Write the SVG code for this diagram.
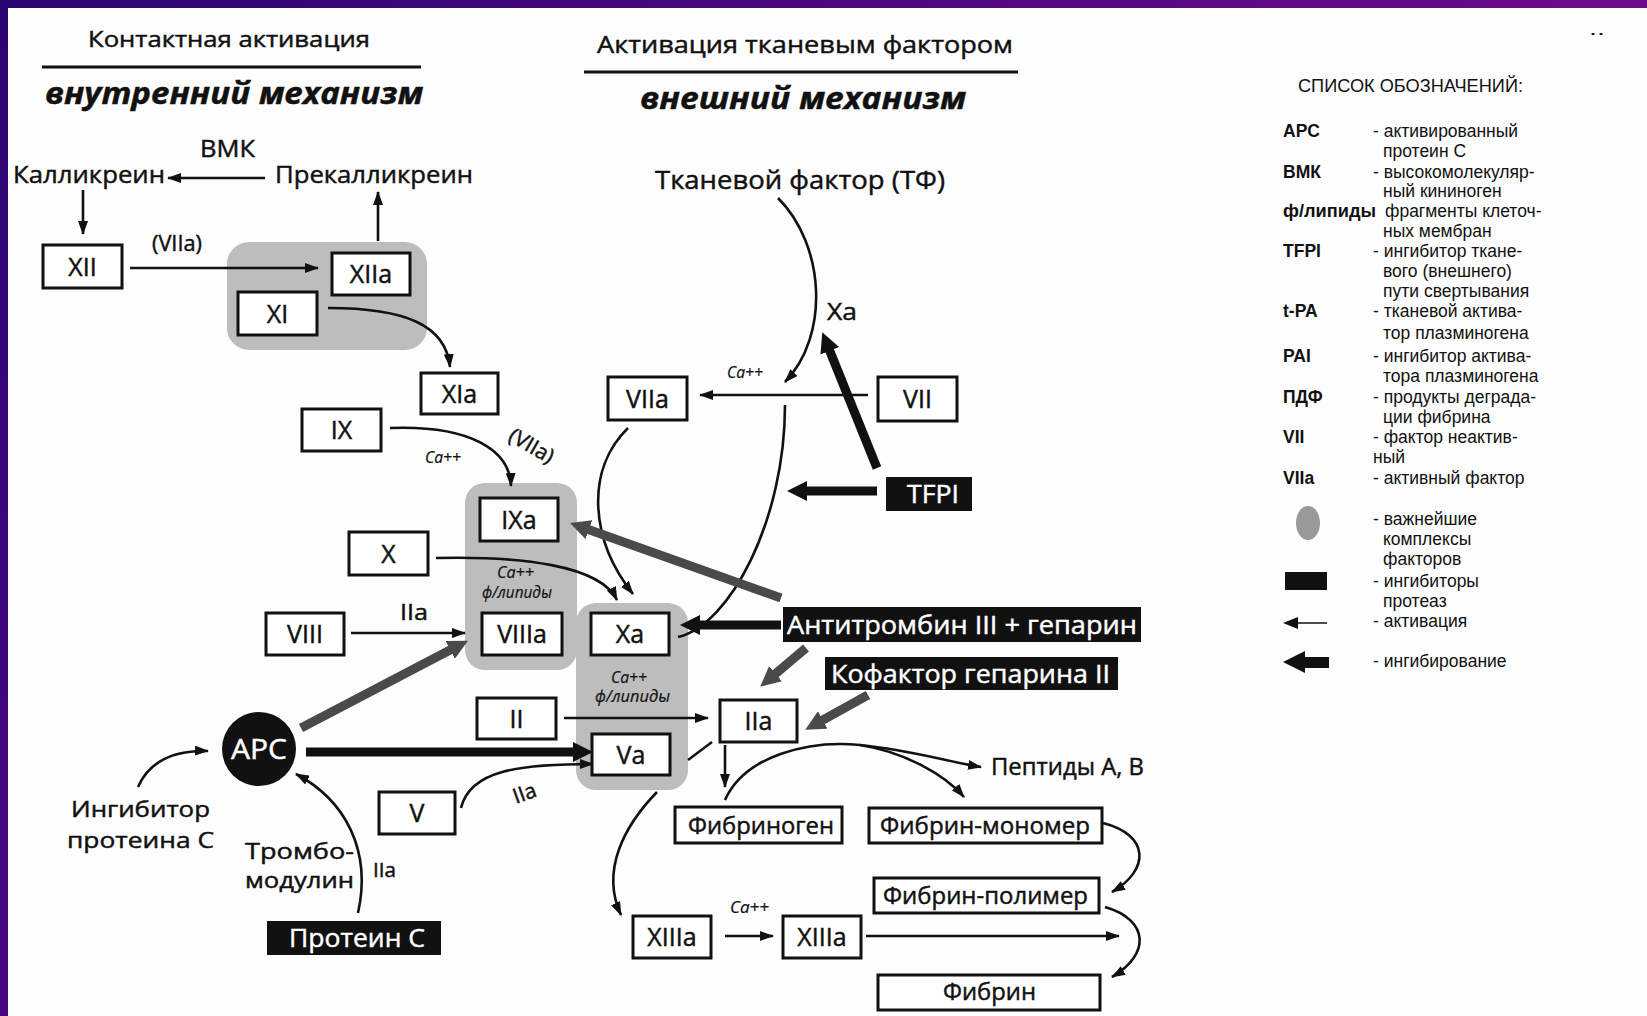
<svg xmlns="http://www.w3.org/2000/svg" width="1647" height="1016" viewBox="0 0 1647 1016">
<defs>
<linearGradient id="gTop" x1="0" y1="0" x2="1" y2="0"><stop offset="0" stop-color="#2a0672"/><stop offset="1" stop-color="#6e0a8c"/></linearGradient>
<linearGradient id="gLeft" x1="0" y1="0" x2="0" y2="1"><stop offset="0" stop-color="#2a0672"/><stop offset="1" stop-color="#4a0884"/></linearGradient>
<marker id="a" viewBox="0 0 14 10" refX="13" refY="5" markerWidth="14" markerHeight="10" markerUnits="userSpaceOnUse" orient="auto"><path d="M0,0 L14,5 L0,10 z" fill="#111"/></marker>
<marker id="tk" viewBox="0 0 20 20" refX="2" refY="10" markerWidth="20" markerHeight="20" markerUnits="userSpaceOnUse" orient="auto"><path d="M0,0 L20,10 L0,20 z" fill="#111"/></marker>
<marker id="tg" viewBox="0 0 20 20" refX="2" refY="10" markerWidth="20" markerHeight="20" markerUnits="userSpaceOnUse" orient="auto"><path d="M0,0 L20,10 L0,20 z" fill="#4a4a4a"/></marker>
</defs>
<style>
.f{font-family:"Open Sans","Noto Sans",sans-serif;fill:#111;stroke:#111;stroke-width:0.45}
.l{font-family:"Liberation Sans",Arial,sans-serif;font-size:17.5px;fill:#111}
.lb{font-weight:bold}
.box{fill:#fff;stroke:#111;stroke-width:3}
.grp{fill:#bdbdbd}
.inh{fill:#111}
.bl{font-size:25px;text-anchor:middle}
.wt{fill:#fff;stroke:#fff}
.it{font-style:italic;font-size:16px;stroke-width:0.2}
.ln{fill:none;stroke:#111;stroke-width:2.6}
.thk{fill:none;stroke:#111;stroke-width:9}
.thg{fill:none;stroke:#4a4a4a;stroke-width:9}
</style>
<rect x="0" y="0" width="1647" height="1016" fill="#fdfdfd"/>
<rect x="0" y="0" width="1647" height="8" fill="url(#gTop)"/>
<rect x="0" y="0" width="8" height="1016" fill="url(#gLeft)"/>

<g id="headers">
<text class="f" x="88" y="47" font-size="22" textLength="282" lengthAdjust="spacingAndGlyphs">Контактная активация</text>
<line x1="42" y1="67" x2="421" y2="67" stroke="#111" stroke-width="3"/>
<text class="f" x="45" y="104" font-size="30" font-weight="bold" font-style="italic" textLength="378" lengthAdjust="spacingAndGlyphs">внутренний механизм</text>
<text class="f" x="597" y="53" font-size="24" textLength="416" lengthAdjust="spacingAndGlyphs">Активация тканевым фактором</text>
<line x1="584" y1="72" x2="1018" y2="72" stroke="#111" stroke-width="3"/>
<text class="f" x="640" y="109" font-size="30" font-weight="bold" font-style="italic" textLength="326" lengthAdjust="spacingAndGlyphs">внешний механизм</text>
<text class="l" x="1589" y="35" textLength="16" lengthAdjust="spacingAndGlyphs">..</text>
</g>

<g id="groups">
<rect id="grp-xii" class="grp" x="227" y="242" width="200" height="108" rx="22"/>
<rect id="grp-ixa" class="grp" x="465" y="483" width="112" height="187" rx="20"/>
<rect id="grp-xa" class="grp" x="576" y="603" width="112" height="187" rx="20"/>
</g>

<g id="connectors">
<line class="ln" x1="265" y1="178" x2="168" y2="178" marker-end="url(#a)"/>
<line class="ln" x1="83" y1="190" x2="83" y2="234" marker-end="url(#a)"/>
<line class="ln" x1="378" y1="241" x2="378" y2="192" marker-end="url(#a)"/>
<line class="ln" x1="130" y1="268" x2="318" y2="268" marker-end="url(#a)"/>
<path class="ln" d="M328,308 C405,308 446,325 450,367" marker-end="url(#a)"/>
<path class="ln" d="M390,428 C470,425 510,450 511,486" marker-end="url(#a)"/>
<path class="ln" d="M436,558 C520,556 600,565 617,600" marker-end="url(#a)"/>
<line class="ln" x1="351" y1="633" x2="465" y2="633" marker-end="url(#a)"/>
<line class="ln" x1="564" y1="718" x2="708" y2="718" marker-end="url(#a)"/>
<path class="ln" d="M461,808 C470,770 520,764 593,764" marker-end="url(#a)"/>
<path class="ln" d="M138,787 C150,760 175,750 208,751" marker-end="url(#a)"/>
<path class="ln" d="M358,913 C372,850 345,800 296,774" marker-end="url(#a)"/>
<path class="ln" d="M778,198 C825,245 830,335 785,382" marker-end="url(#a)"/>
<line class="ln" x1="868" y1="395" x2="700" y2="395" marker-end="url(#a)"/>
<path class="ln" d="M678,637 C730,625 785,520 785,405"/>
<path class="ln" d="M628,428 C585,470 590,540 633,594" marker-end="url(#a)"/>
<line class="ln" x1="688" y1="760" x2="712" y2="742"/>
<line class="ln" x1="725" y1="745" x2="725" y2="787" marker-end="url(#a)"/>
<path class="ln" d="M725,800 C745,755 810,740 860,745 C910,750 950,762 981,767" marker-end="url(#a)"/>
<path class="ln" d="M860,745 C905,752 945,775 964,797" marker-end="url(#a)"/>
<path class="ln" d="M657,792 C625,825 600,870 621,915" marker-end="url(#a)"/>
<line class="ln" x1="725" y1="936" x2="773" y2="936" marker-end="url(#a)"/>
<line class="ln" x1="866" y1="936" x2="1119" y2="936" marker-end="url(#a)"/>
<path class="ln" d="M1103,823 C1150,835 1150,870 1112,892" marker-end="url(#a)"/>
<path class="ln" d="M1105,907 C1150,920 1150,955 1112,977" marker-end="url(#a)"/>
<line class="thk" x1="877" y1="468" x2="829" y2="349" marker-end="url(#tk)"/>
<line class="thk" x1="877" y1="491" x2="805" y2="491" marker-end="url(#tk)"/>
<line class="thg" x1="781" y1="598" x2="587" y2="529" marker-end="url(#tg)"/>
<line class="thk" x1="781" y1="625" x2="698" y2="625" marker-end="url(#tk)"/>
<line class="thg" x1="806" y1="648" x2="774" y2="675" marker-end="url(#tg)"/>
<line class="thg" x1="868" y1="695" x2="821" y2="721" marker-end="url(#tg)"/>
<line class="thg" x1="301" y1="728" x2="452" y2="649" marker-end="url(#tg)"/>
<line class="thk" x1="306" y1="752" x2="575" y2="752" marker-end="url(#tk)"/>
</g>

<g id="labels">
<text class="f" x="200" y="157" font-size="24" textLength="55" lengthAdjust="spacingAndGlyphs">ВМК</text>
<text class="f" x="152" y="251" font-size="22" textLength="50" lengthAdjust="spacingAndGlyphs">(VIIa)</text>
<text class="f" x="827" y="320" font-size="24" textLength="30" lengthAdjust="spacingAndGlyphs">Xa</text>
<text class="f it" x="727" y="378" textLength="36" lengthAdjust="spacingAndGlyphs">Ca++</text>
<text class="f it" x="425" y="463" textLength="36" lengthAdjust="spacingAndGlyphs">Ca++</text>
<text class="f" x="0" y="0" font-size="21" text-anchor="middle" transform="translate(528,452) rotate(30)">(VIIa)</text>
<text class="f it" x="497" y="578" textLength="37" lengthAdjust="spacingAndGlyphs">Ca++</text>
<text class="f it" x="482" y="598" textLength="70" lengthAdjust="spacingAndGlyphs">ф/липиды</text>
<text class="f it" x="611" y="683" textLength="36" lengthAdjust="spacingAndGlyphs">Ca++</text>
<text class="f it" x="595" y="702" textLength="75" lengthAdjust="spacingAndGlyphs">ф/липиды</text>
<text class="f" x="400" y="620" font-size="22" textLength="28" lengthAdjust="spacingAndGlyphs">IIa</text>
<text class="f" x="0" y="0" font-size="21" text-anchor="middle" transform="translate(527,800) rotate(-20)">IIa</text>
<text class="f" x="373" y="877" font-size="20" textLength="23" lengthAdjust="spacingAndGlyphs">IIa</text>
<text class="f it" x="730" y="913" textLength="39" lengthAdjust="spacingAndGlyphs">Ca++</text>
</g>

<g id="n-kallikrein"><text class="f" x="13" y="183" font-size="24" textLength="152" lengthAdjust="spacingAndGlyphs">Калликреин</text></g>
<g id="n-prekallikrein"><text class="f" x="275" y="183" font-size="24" textLength="198" lengthAdjust="spacingAndGlyphs">Прекалликреин</text></g>
<g id="n-tf"><text class="f" x="655" y="189" font-size="26" textLength="290" lengthAdjust="spacingAndGlyphs">Тканевой фактор (ТФ)</text></g>

<g id="n-xii"><rect class="box" x="43" y="245" width="79" height="43"/><text class="f bl" x="82.5" y="275.5">XII</text></g>
<g id="n-xiia"><rect class="box" x="332" y="253" width="78" height="42"/><text class="f bl" x="371" y="283">XIIa</text></g>
<g id="n-xi"><rect class="box" x="238" y="292" width="79" height="43"/><text class="f bl" x="277.5" y="322.5">XI</text></g>
<g id="n-xia"><rect class="box" x="421" y="373" width="77" height="41"/><text class="f bl" x="459.5" y="402.5">XIa</text></g>
<g id="n-ix"><rect class="box" x="302" y="409" width="79" height="42"/><text class="f bl" x="341.5" y="439">IX</text></g>
<g id="n-x"><rect class="box" x="349" y="532" width="79" height="43"/><text class="f bl" x="388.5" y="562.5">X</text></g>
<g id="n-viii"><rect class="box" x="266" y="613" width="78" height="42"/><text class="f bl" x="305" y="643">VIII</text></g>
<g id="n-ixa"><rect class="box" x="480" y="498" width="78" height="43"/><text class="f bl" x="519" y="528.5">IXa</text></g>
<g id="n-viiia"><rect class="box" x="482" y="613" width="80" height="42"/><text class="f bl" x="522" y="643">VIIIa</text></g>
<g id="n-xa"><rect class="box" x="591" y="613" width="78" height="42"/><text class="f bl" x="630" y="643">Xa</text></g>
<g id="n-ii"><rect class="box" x="477" y="698" width="79" height="41"/><text class="f bl" x="516.5" y="727.5">II</text></g>
<g id="n-va"><rect class="box" x="592" y="734" width="78" height="41"/><text class="f bl" x="631" y="763.5">Va</text></g>
<g id="n-v"><rect class="box" x="379" y="792" width="76" height="42"/><text class="f bl" x="417" y="822">V</text></g>
<g id="n-iia"><rect class="box" x="720" y="700" width="77" height="42"/><text class="f bl" x="758.5" y="730">IIa</text></g>
<g id="n-viia"><rect class="box" x="608" y="377" width="79" height="43"/><text class="f bl" x="647.5" y="407.5">VIIa</text></g>
<g id="n-vii"><rect class="box" x="878" y="377" width="79" height="44"/><text class="f bl" x="917.5" y="408">VII</text></g>
<g id="n-xiiia1"><rect class="box" x="633" y="916" width="78" height="42"/><text class="f bl" x="672" y="946">XIIIa</text></g>
<g id="n-xiiia2"><rect class="box" x="783" y="916" width="78" height="42"/><text class="f bl" x="822" y="946">XIIIa</text></g>
<g id="n-fibrinogen"><rect class="box" x="675" y="807" width="167" height="36"/><text class="f" x="688" y="834" font-size="24" textLength="146" lengthAdjust="spacingAndGlyphs">Фибриноген</text></g>
<g id="n-monomer"><rect class="box" x="869" y="808" width="233" height="35"/><text class="f" x="880" y="834" font-size="24" textLength="210" lengthAdjust="spacingAndGlyphs">Фибрин-мономер</text></g>
<g id="n-polymer"><rect class="box" x="874" y="878" width="225" height="35"/><text class="f" x="883" y="904" font-size="24" textLength="205" lengthAdjust="spacingAndGlyphs">Фибрин-полимер</text></g>
<g id="n-fibrin"><rect class="box" x="878" y="975" width="222" height="35"/><text class="f" x="943" y="1000" font-size="24" textLength="93" lengthAdjust="spacingAndGlyphs">Фибрин</text></g>
<g id="n-peptides"><text class="f" x="991" y="775" font-size="24" textLength="153" lengthAdjust="spacingAndGlyphs">Пептиды A, B</text></g>

<g id="n-tfpi"><rect class="inh" x="886" y="477" width="86" height="34"/><text class="f wt" x="907" y="503" font-size="25" textLength="52" lengthAdjust="spacingAndGlyphs">TFPI</text></g>
<g id="n-at3"><rect class="inh" x="783" y="607" width="358" height="35"/><text class="f wt" x="787" y="634" font-size="26" textLength="350" lengthAdjust="spacingAndGlyphs">Антитромбин III + гепарин</text></g>
<g id="n-hc2"><rect class="inh" x="825" y="657" width="293" height="33"/><text class="f wt" x="831" y="683" font-size="26" textLength="279" lengthAdjust="spacingAndGlyphs">Кофактор гепарина II</text></g>
<g id="n-proteinc"><rect class="inh" x="267" y="921" width="174" height="34"/><text class="f wt" x="289" y="947" font-size="26" textLength="136" lengthAdjust="spacingAndGlyphs">Протеин С</text></g>
<g id="n-apc"><circle cx="259" cy="749" r="37" fill="#111"/><text class="f wt" x="259" y="759" font-size="28" text-anchor="middle" textLength="56" lengthAdjust="spacingAndGlyphs">APC</text></g>
<g id="n-pci"><text class="f" x="71" y="817" font-size="22" textLength="139" lengthAdjust="spacingAndGlyphs">Ингибитор</text><text class="f" x="67" y="848" font-size="22" textLength="147" lengthAdjust="spacingAndGlyphs">протеина С</text></g>
<g id="n-tm"><text class="f" x="245" y="859" font-size="21" textLength="109" lengthAdjust="spacingAndGlyphs">Тромбо-</text><text class="f" x="245" y="888" font-size="21" textLength="109" lengthAdjust="spacingAndGlyphs">модулин</text></g>

<g id="legend">
<text class="l" x="1298" y="92" font-size="18" textLength="225" lengthAdjust="spacingAndGlyphs">СПИСОК ОБОЗНАЧЕНИЙ:</text>
<text class="l lb" x="1283" y="137">APC</text>
<text class="l" x="1373" y="137">- активированный</text>
<text class="l" x="1383" y="157">протеин С</text>
<text class="l lb" x="1283" y="178">ВМК</text>
<text class="l" x="1373" y="178">- высокомолекуляр-</text>
<text class="l" x="1383" y="197">ный кининоген</text>
<text class="l lb" x="1283" y="217" textLength="93" lengthAdjust="spacingAndGlyphs">ф/липиды</text>
<text class="l" x="1385" y="217">фрагменты клеточ-</text>
<text class="l" x="1383" y="237">ных мембран</text>
<text class="l lb" x="1283" y="257">TFPI</text>
<text class="l" x="1373" y="257">- ингибитор ткане-</text>
<text class="l" x="1383" y="277">вого (внешнего)</text>
<text class="l" x="1383" y="297">пути свертывания</text>
<text class="l lb" x="1283" y="317">t-PA</text>
<text class="l" x="1373" y="317">- тканевой актива-</text>
<text class="l" x="1383" y="339">тор плазминогена</text>
<text class="l lb" x="1283" y="362">PAI</text>
<text class="l" x="1373" y="362">- ингибитор актива-</text>
<text class="l" x="1383" y="382">тора плазминогена</text>
<text class="l lb" x="1283" y="403">ПДФ</text>
<text class="l" x="1373" y="403">- продукты деграда-</text>
<text class="l" x="1383" y="423">ции фибрина</text>
<text class="l lb" x="1283" y="443">VII</text>
<text class="l" x="1373" y="443">- фактор неактив-</text>
<text class="l" x="1373" y="463">ный</text>
<text class="l lb" x="1283" y="484">VIIa</text>
<text class="l" x="1373" y="484">- активный фактор</text>
<ellipse cx="1308" cy="523" rx="12" ry="17" fill="#999"/>
<text class="l" x="1373" y="525">- важнейшие</text>
<text class="l" x="1383" y="545">комплексы</text>
<text class="l" x="1383" y="565">факторов</text>
<rect x="1285" y="572" width="42" height="18" fill="#111"/>
<text class="l" x="1373" y="587">- ингибиторы</text>
<text class="l" x="1383" y="607">протеаз</text>
<line x1="1327" y1="623" x2="1290" y2="623" stroke="#111" stroke-width="1.5"/>
<path d="M1283,623 L1298,617 L1298,629 z" fill="#111"/>
<text class="l" x="1373" y="627">- активация</text>
<path d="M1283,662 L1305,651 L1305,657 L1329,657 L1329,668 L1305,668 L1305,673 z" fill="#111"/>
<text class="l" x="1373" y="667">- ингибирование</text>
</g>
</svg>
